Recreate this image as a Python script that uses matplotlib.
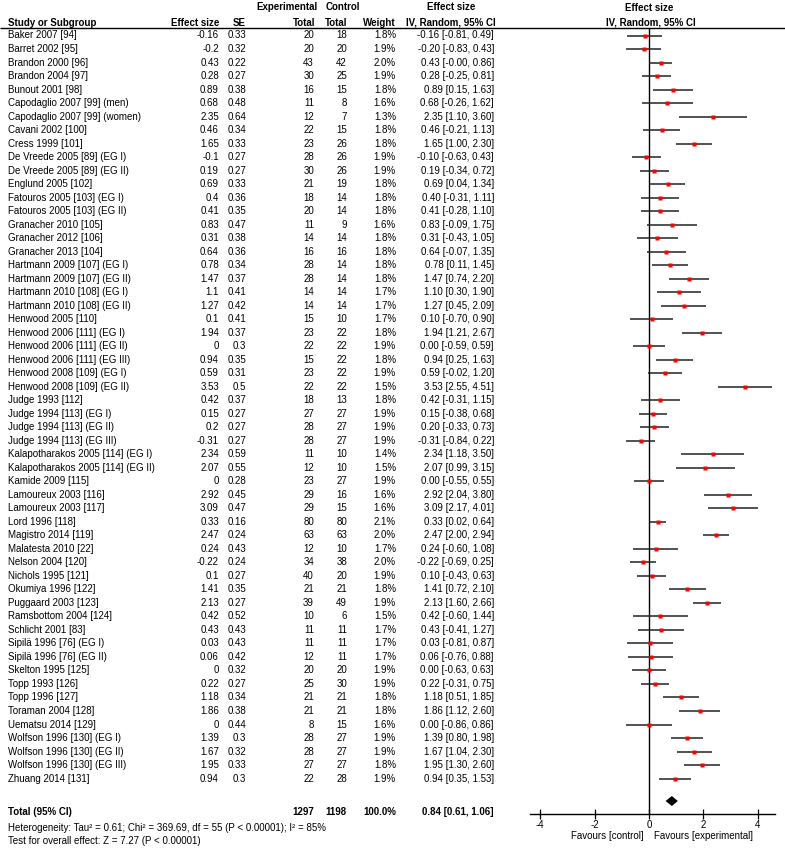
import matplotlib
matplotlib.use("Agg")
import matplotlib.pyplot as plt

plt.rcParams['font.family'] = ['Liberation Sans', 'DejaVu Sans']

studies = ["Baker 2007 [94]", "Barret 2002 [95]", "Brandon 2000 [96]", "Brandon 2004 [97]",
           "Bunout 2001 [98]", "Capodaglio 2007 [99] (men)", "Capodaglio 2007 [99] (women)",
           "Cavani 2002 [100]", "Cress 1999 [101]", "De Vreede 2005 [89] (EG I)",
           "De Vreede 2005 [89] (EG II)", "Englund 2005 [102]", "Fatouros 2005 [103] (EG I)",
           "Fatouros 2005 [103] (EG II)", "Granacher 2010 [105]", "Granacher 2012 [106]",
           "Granacher 2013 [104]", "Hartmann 2009 [107] (EG I)", "Hartmann 2009 [107] (EG II)",
           "Hartmann 2010 [108] (EG I)", "Hartmann 2010 [108] (EG II)", "Henwood 2005 [110]",
           "Henwood 2006 [111] (EG I)", "Henwood 2006 [111] (EG II)", "Henwood 2006 [111] (EG III)",
           "Henwood 2008 [109] (EG I)", "Henwood 2008 [109] (EG II)", "Judge 1993 [112]",
           "Judge 1994 [113] (EG I)", "Judge 1994 [113] (EG II)", "Judge 1994 [113] (EG III)",
           "Kalapotharakos 2005 [114] (EG I)", "Kalapotharakos 2005 [114] (EG II)",
           "Kamide 2009 [115]", "Lamoureux 2003 [116]", "Lamoureux 2003 [117]", "Lord 1996 [118]",
           "Magistro 2014 [119]", "Malatesta 2010 [22]", "Nelson 2004 [120]", "Nichols 1995 [121]",
           "Okumiya 1996 [122]", "Puggaard 2003 [123]", "Ramsbottom 2004 [124]",
           "Schlicht 2001 [83]", "Sipilä 1996 [76] (EG I)", "Sipilä 1996 [76] (EG II)",
           "Skelton 1995 [125]", "Topp 1993 [126]", "Topp 1996 [127]", "Toraman 2004 [128]",
           "Uematsu 2014 [129]", "Wolfson 1996 [130] (EG I)", "Wolfson 1996 [130] (EG II)",
           "Wolfson 1996 [130] (EG III)", "Zhuang 2014 [131]"]

effect = [-0.16, -0.2, 0.43, 0.28, 0.89, 0.68, 2.35, 0.46, 1.65, -0.1, 0.19, 0.69, 0.4, 0.41,
          0.83, 0.31, 0.64, 0.78, 1.47, 1.1, 1.27, 0.1, 1.94, 0, 0.94, 0.59, 3.53, 0.42, 0.15,
          0.2, -0.31, 2.34, 2.07, 0, 2.92, 3.09, 0.33, 2.47, 0.24, -0.22, 0.1, 1.41, 2.13, 0.42,
          0.43, 0.03, 0.06, 0, 0.22, 1.18, 1.86, 0, 1.39, 1.67, 1.95, 0.94]
se = [0.33, 0.32, 0.22, 0.27, 0.38, 0.48, 0.64, 0.34, 0.33, 0.27, 0.27, 0.33, 0.36, 0.35, 0.47,
      0.38, 0.36, 0.34, 0.37, 0.41, 0.42, 0.41, 0.37, 0.3, 0.35, 0.31, 0.5, 0.37, 0.27, 0.27,
      0.27, 0.59, 0.55, 0.28, 0.45, 0.47, 0.16, 0.24, 0.43, 0.24, 0.27, 0.35, 0.27, 0.52, 0.43,
      0.43, 0.42, 0.32, 0.27, 0.34, 0.38, 0.44, 0.3, 0.32, 0.33, 0.3]
exp_n = [20, 20, 43, 30, 16, 11, 12, 22, 23, 28, 30, 21, 18, 20, 11, 14, 16, 28, 28, 14, 14, 15,
         23, 22, 15, 23, 22, 18, 27, 28, 28, 11, 12, 23, 29, 29, 80, 63, 12, 34, 40, 21, 39, 10,
         11, 11, 12, 20, 25, 21, 21, 8, 28, 28, 27, 22]
ctl_n = [18, 20, 42, 25, 15, 8, 7, 15, 26, 26, 26, 19, 14, 14, 9, 14, 16, 14, 14, 14, 14, 10,
         22, 22, 22, 22, 22, 13, 27, 27, 27, 10, 10, 27, 16, 15, 80, 63, 10, 38, 20, 21, 49, 6,
         11, 11, 11, 20, 30, 21, 21, 15, 27, 27, 27, 28]
weight = [1.8, 1.9, 2.0, 1.9, 1.8, 1.6, 1.3, 1.8, 1.8, 1.9, 1.9, 1.8, 1.8, 1.8, 1.6, 1.8, 1.8,
          1.8, 1.8, 1.7, 1.7, 1.7, 1.8, 1.9, 1.8, 1.9, 1.5, 1.8, 1.9, 1.9, 1.9, 1.4, 1.5, 1.9,
          1.6, 1.6, 2.1, 2.0, 1.7, 2.0, 1.9, 1.8, 1.9, 1.5, 1.7, 1.7, 1.7, 1.9, 1.9, 1.8, 1.8,
          1.6, 1.9, 1.9, 1.8, 1.9]
ci_low = [-0.81, -0.83, -0.0, -0.25, 0.15, -0.26, 1.10, -0.21, 1.00, -0.63, -0.34, 0.04, -0.31,
          -0.28, -0.09, -0.43, -0.07, 0.11, 0.74, 0.30, 0.45, -0.70, 1.21, -0.59, 0.25, -0.02,
          2.55, -0.31, -0.38, -0.33, -0.84, 1.18, 0.99, -0.55, 2.04, 2.17, 0.02, 2.00, -0.60,
          -0.69, -0.43, 0.72, 1.60, -0.60, -0.41, -0.81, -0.76, -0.63, -0.31, 0.51, 1.12, -0.86,
          0.80, 1.04, 1.30, 0.35]
ci_high = [0.49, 0.43, 0.86, 0.81, 1.63, 1.62, 3.60, 1.13, 2.30, 0.43, 0.72, 1.34, 1.11, 1.10,
           1.75, 1.05, 1.35, 1.45, 2.20, 1.90, 2.09, 0.90, 2.67, 0.59, 1.63, 1.20, 4.51, 1.15,
           0.68, 0.73, 0.22, 3.50, 3.15, 0.55, 3.80, 4.01, 0.64, 2.94, 1.08, 0.25, 0.63, 2.10,
           2.66, 1.44, 1.27, 0.87, 0.88, 0.63, 0.75, 1.85, 2.60, 0.86, 1.98, 2.30, 2.60, 1.53]

total_exp = 1297
total_ctl = 1198
total_weight = 100.0
pooled = 0.84
pooled_low = 0.61
pooled_high = 1.06
heterogeneity = "Heterogeneity: Tau² = 0.61; Chi² = 369.69, df = 55 (P < 0.00001); I² = 85%"
overall_test = "Test for overall effect: Z = 7.27 (P < 0.00001)"
xticks = [-4, -2, 0, 2, 4]

# ---------------- layout (pixels) ----------------
W, H = 785, 848
FS = 7
row_y0, row_dy = 35.5, 13.51
rows_y = [row_y0 + i * row_dy for i in range(len(studies))]
total_y = 812
diamond_y = 801
axis_y = 814
header_y = 28

fig = plt.figure(figsize=(W / 100, H / 100), dpi=100)
fig.patch.set_facecolor('white')

# table axes (pixel coordinates)
at = fig.add_axes([0, 0, 1, 1])
at.set_xlim(0, W)
at.set_ylim(H, 0)
at.axis('off')

def t(x, y, s, ha='left', bold=False):
    at.text(x, y, s, ha=ha, va='center', fontsize=FS,
            fontweight='bold' if bold else 'normal', color='black')

# headers
t(8, 22.7, "Study or Subgroup", bold=True)
t(219, 22.7, "Effect size", ha='right', bold=True)
t(246, 22.7, "SE", ha='right', bold=True)
t(318, 7.5, "Experimental", ha='right', bold=True)
t(315, 22.7, "Total", ha='right', bold=True)
t(326, 7.5, "Control", ha='left', bold=True)
t(347, 22.7, "Total", ha='right', bold=True)
t(396, 22.7, "Weight", ha='right', bold=True)
t(451, 7.5, "Effect size", ha='center', bold=True)
t(496, 22.7, "IV, Random, 95% CI", ha='right', bold=True)
t(649, 8, "Effect size", ha='center', bold=True)
t(651, 22.7, "IV, Random, 95% CI", ha='center', bold=True)
at.hlines(header_y, 0, W, color='black', lw=1.0)

for i, y in enumerate(rows_y):
    t(8, y, studies[i])
    t(219, y, f"{effect[i]:g}", ha='right')
    t(246, y, f"{se[i]:g}", ha='right')
    t(314, y, str(exp_n[i]), ha='right')
    t(347, y, str(ctl_n[i]), ha='right')
    t(396, y, f"{weight[i]:.1f}%", ha='right')
    t(494, y, f"{effect[i]:.2f} [{ci_low[i]:.2f}, {ci_high[i]:.2f}]", ha='right')

t(8, total_y, "Total (95% CI)", bold=True)
t(314, total_y, str(total_exp), ha='right', bold=True)
t(347, total_y, str(total_ctl), ha='right', bold=True)
t(396, total_y, f"{total_weight:.1f}%", ha='right', bold=True)
t(494, total_y, f"{pooled:.2f} [{pooled_low:.2f}, {pooled_high:.2f}]", ha='right', bold=True)
t(8, 828, heterogeneity)
t(8, 841, overall_test)

# forest axes
x0_px, zero_px, unit_px = 530, 649, 27.2
xmin = (x0_px - zero_px) / unit_px
xmax = (W - zero_px) / unit_px
af = fig.add_axes([x0_px / W, (H - axis_y) / H, (W - x0_px) / W, (axis_y - header_y) / H])
af.patch.set_alpha(0)
af.set_xlim(xmin, xmax)
af.set_ylim(axis_y, header_y)
for s in ['top', 'right', 'left']:
    af.spines[s].set_visible(False)
af.spines['bottom'].set_bounds(xmin, (775 - zero_px) / unit_px)
af.spines['bottom'].set_linewidth(1.0)
af.set_yticks([])
af.set_xticks(xticks)
af.set_xticklabels([str(v) for v in xticks])
af.tick_params(axis='x', direction='inout', length=7, width=0.9, labelsize=FS, pad=1)

af.axvline(0, color='black', lw=1.0)
af.hlines(rows_y, ci_low, ci_high, color='#222222', lw=1.1)
af.plot(effect, rows_y, 's', color='red', ms=2.2, mec='none')
dh = 5.0
af.fill([pooled_low, pooled, pooled_high, pooled],
        [diamond_y, diamond_y - dh, diamond_y, diamond_y + dh], color='black', lw=0)

at.text(644, 836, "Favours [control]", ha='right', va='center', fontsize=FS)
at.text(654, 836, "Favours [experimental]", ha='left', va='center', fontsize=FS)

fig.savefig("out.png", dpi=100, facecolor='white')
